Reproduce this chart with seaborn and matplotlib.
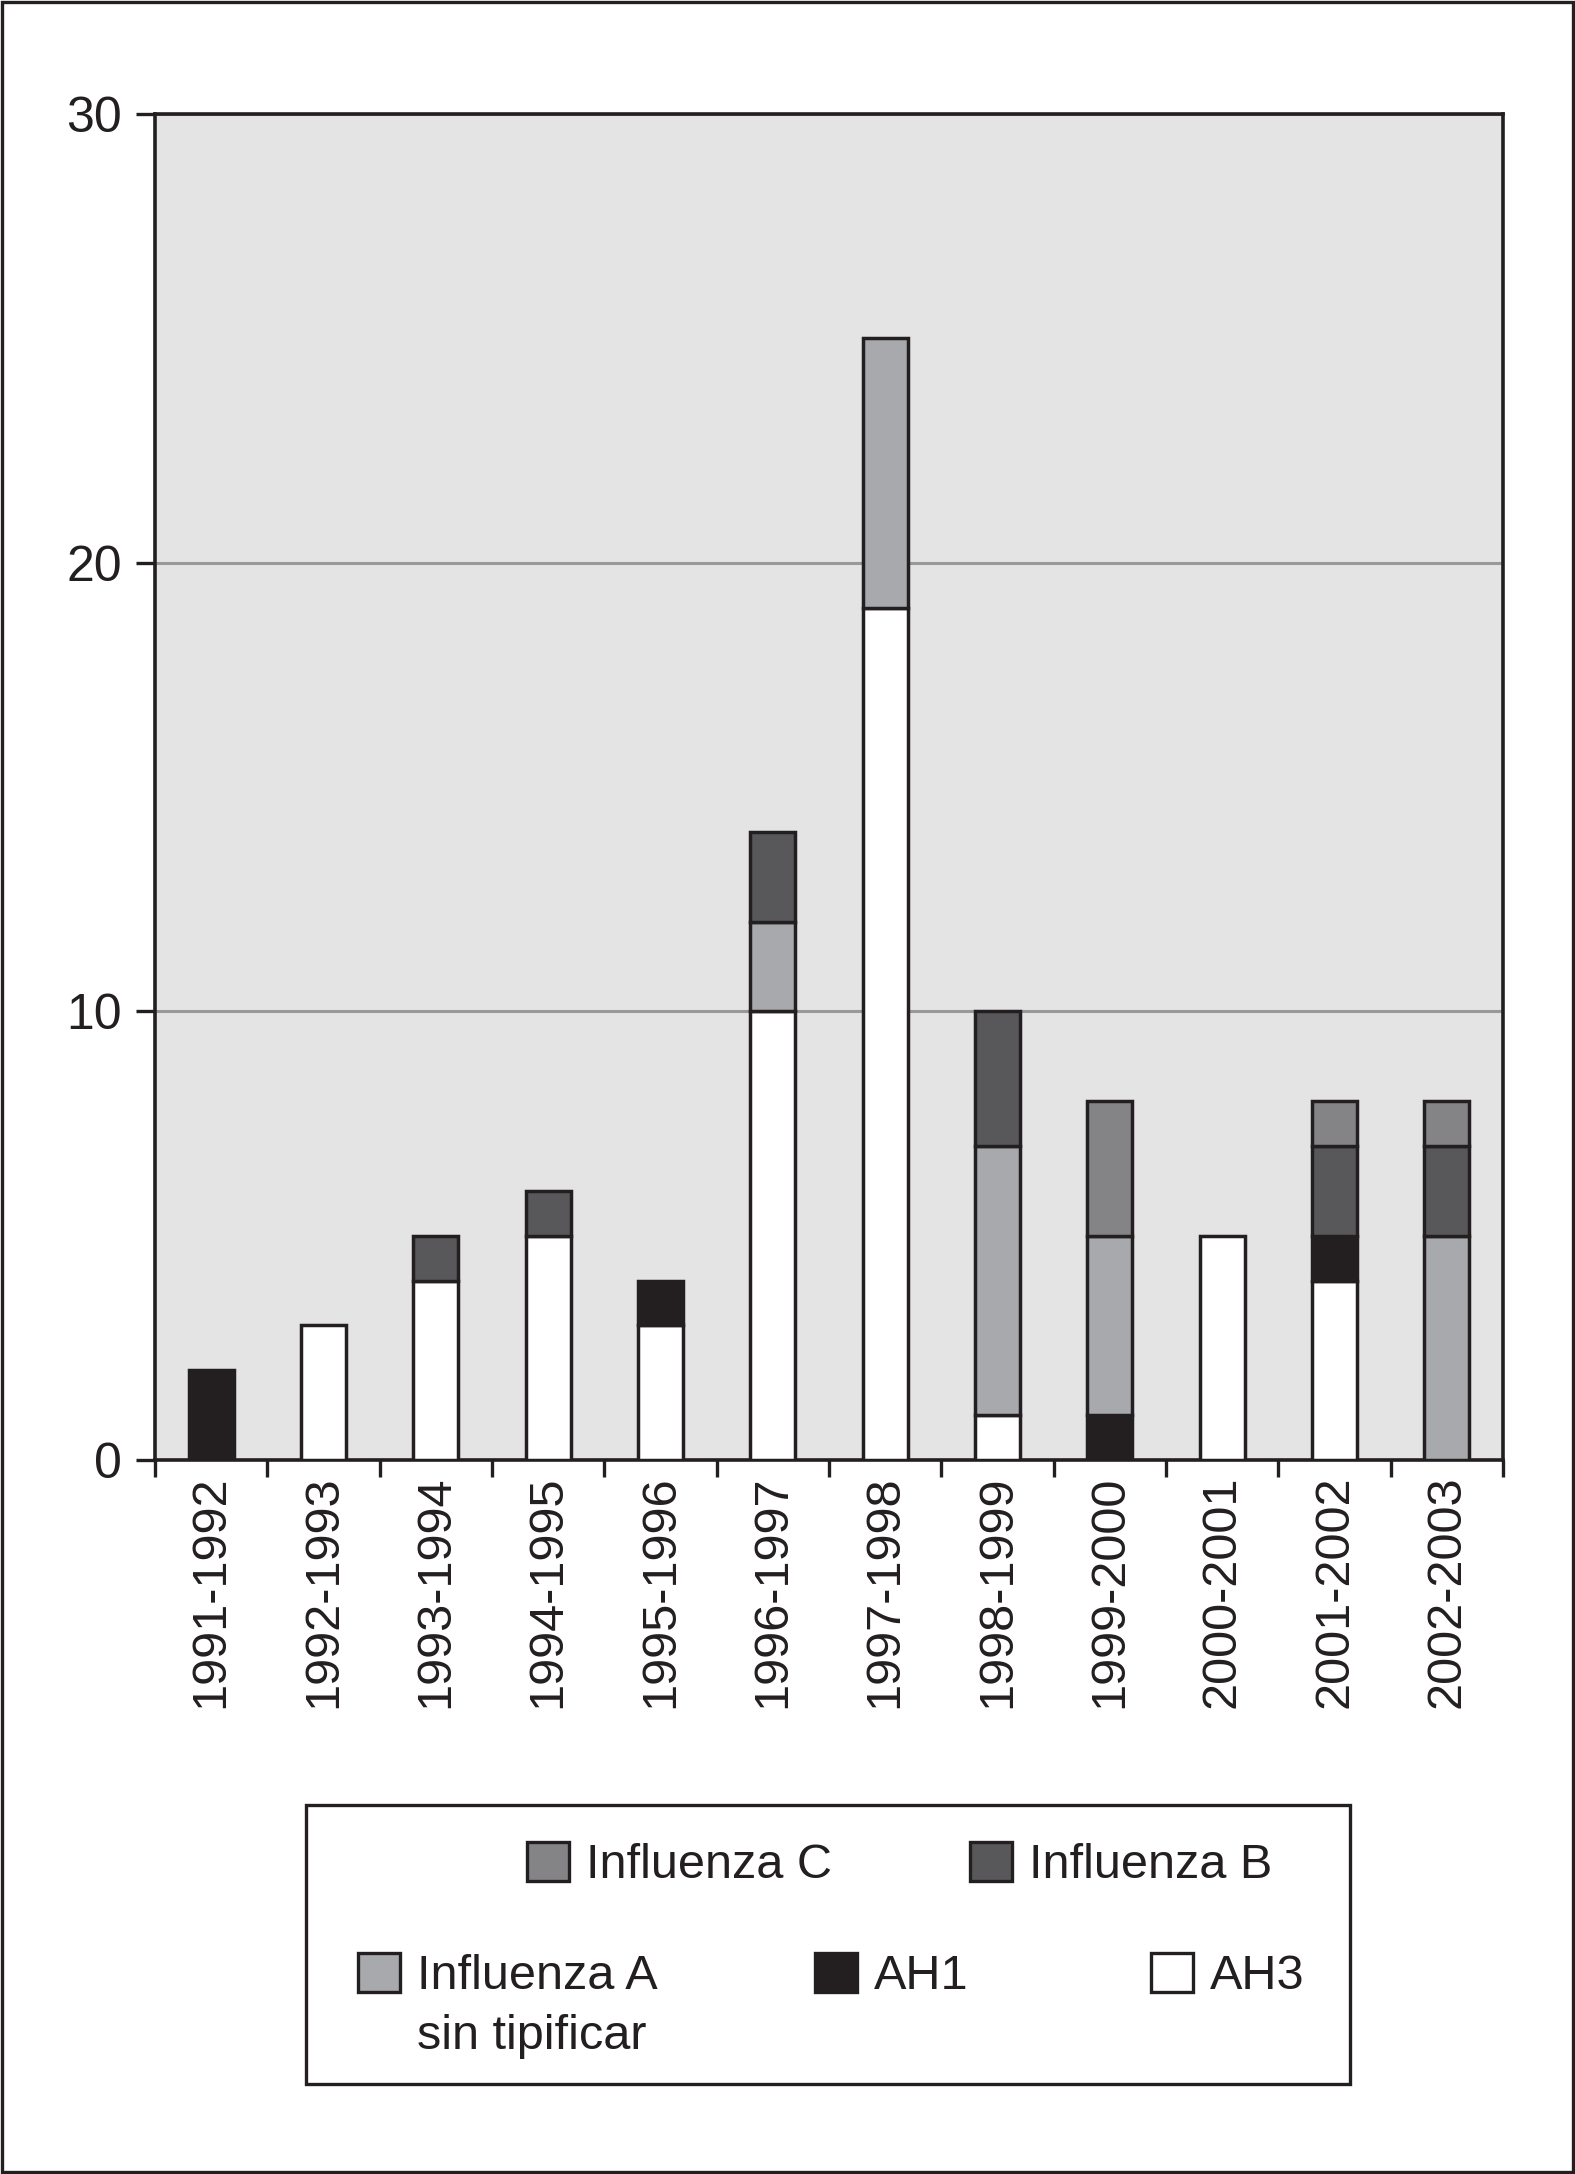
import numpy as np
import pandas as pd
import matplotlib
matplotlib.use("Agg")
import matplotlib.pyplot as plt
from matplotlib.patches import Patch, Rectangle
import seaborn as sns

seasons = ["1991-1992", "1992-1993", "1993-1994", "1994-1995", "1995-1996", "1996-1997",
           "1997-1998", "1998-1999", "1999-2000", "2000-2001", "2001-2002", "2002-2003"]
ah3 = [0, 3, 4, 5, 3, 10, 19, 1, 0, 5, 4, 0]
ah1 = [2, 0, 0, 0, 1, 0, 0, 0, 1, 0, 1, 0]
flu_a = [0, 0, 0, 0, 0, 2, 6, 6, 4, 0, 0, 5]
flu_b = [0, 0, 1, 1, 0, 2, 0, 3, 0, 0, 2, 2]
flu_c = [0, 0, 0, 0, 0, 0, 0, 0, 3, 0, 1, 1]

series = [
    ("AH3", ah3, "#ffffff"),
    ("AH1", ah1, "#231f20"),
    ("Influenza A", flu_a, "#a8a9ac"),
    ("Influenza B", flu_b, "#58585b"),
    ("Influenza C", flu_c, "#848486"),
]

sns.set_theme(style="white")
plt.rcParams["font.family"] = ["Liberation Sans", "DejaVu Sans"]
INK = "#231f20"
plt.rcParams["text.color"] = INK

W, H = 1575, 2174
fig = plt.figure(figsize=(W / 100, H / 100), dpi=100)
ax = fig.add_axes([155 / W, 1 - 1460 / H, (1503 - 155) / W, (1460 - 114) / H])
ax.set_facecolor("#e4e4e4")

bottom = np.zeros(len(seasons))
for name, vals, col in series:
    v = np.array(vals, dtype=float)
    mask = v > 0
    df = pd.DataFrame({"season": np.array(seasons)[mask], "value": v[mask]})
    sns.barplot(data=df, x="season", y="value", order=seasons, bottom=bottom[mask],
                color=col, saturation=1, width=0.4, edgecolor=INK, linewidth=2.5,
                ax=ax, zorder=3)
    bottom = bottom + v

ax.set_ylim(0, 30)
ax.set_xlim(-0.5, len(seasons) - 0.5)
ax.set_yticks([0, 10, 20, 30])
ax.yaxis.grid(True, color="#999999", linewidth=2.2)
ax.xaxis.grid(False)
ax.set_axisbelow(True)
ax.set_xlabel("")
ax.set_ylabel("")
for s in ax.spines.values():
    s.set_visible(True)
    s.set_color(INK)
    s.set_linewidth(2.6)
ax.tick_params(axis="y", which="major", direction="out", length=14, width=2.4, color=INK,
               labelsize=36, pad=10, labelcolor=INK, left=True)
ax.set_xticks(range(len(seasons)))
ax.set_xticklabels(seasons, rotation=90, va="top", ha="center")
ax.set_xticks(np.arange(-0.5, len(seasons), 1.0), minor=True)
ax.tick_params(axis="x", which="major", length=0, labelsize=35, pad=11, labelcolor=INK)
ax.tick_params(axis="x", which="minor", direction="out", length=12, width=2.4, color=INK, bottom=True)

# legend frame
fig.patches.append(Rectangle((306 / W, 1 - 2084 / H), (1350 - 306) / W, (2084 - 1805) / H,
                             transform=fig.transFigure, fill=False, edgecolor=INK, linewidth=2.4))
# figure border
fig.patches.append(Rectangle((0.001, 0.001), 0.998, 0.998, transform=fig.transFigure,
                             fill=False, edgecolor=INK, linewidth=2.4))

colors = {n: c for n, _, c in series}
positions = [
    ("Influenza C", 527, 1865),
    ("Influenza B", 970, 1865),
    ("Influenza A", 358, 1976),
    ("AH1", 815, 1976),
    ("AH3", 1151, 1976),
]
for name, x, y in positions:
    h = Patch(facecolor=colors[name], edgecolor=INK, linewidth=2.4)
    fig.legend(handles=[h], labels=[name], loc="center left", bbox_to_anchor=(x / W, 1 - y / H),
               frameon=False, fontsize=35, borderpad=0, borderaxespad=0,
               handlelength=0.86, handleheight=0.86, handletextpad=0.35)
fig.text(417 / W, 1 - 2049 / H, "sin tipificar", fontsize=35, va="baseline", ha="left", color=INK)

fig.savefig("out.png", dpi=100)
